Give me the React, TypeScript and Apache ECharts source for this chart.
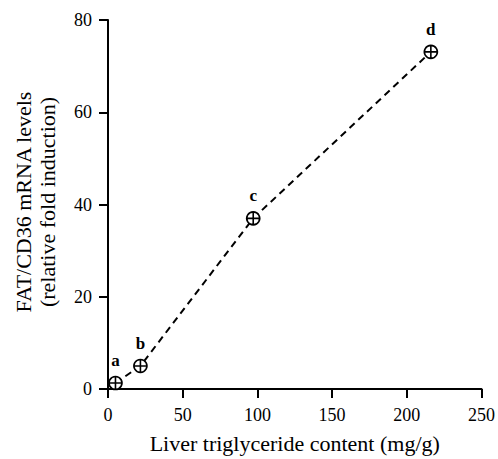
import React, { useEffect, useRef } from "react";
import * as echarts from "echarts";

const pointLabels = ["a", "b", "c", "d"];
const triglyceride = [5.0, 21.7, 97.2, 216.1];
const fatCd36 = [1.3, 5.0, 37.0, 73.1];
const xTicks = [0, 50, 100, 150, 200, 250];
const yTicks = [0, 20, 40, 60, 80];

const FONT = '"Liberation Serif", "Times New Roman", serif';

export default function App() {
  const ref = useRef<HTMLDivElement>(null);
  useEffect(() => {
    if (!ref.current) return;
    const chart = echarts.init(ref.current, undefined, { renderer: "svg" });
    const data = triglyceride.map((x, i) => ({ value: [x, fatCd36[i]], name: pointLabels[i] }));
    chart.setOption({
      animation: false,
      backgroundColor: "#fff",
      grid: { left: 108, right: 14, top: 20, bottom: 64 },
      xAxis: {
        type: "value",
        min: xTicks[0],
        max: xTicks[xTicks.length - 1],
        interval: 50,
        name: "Liver triglyceride content (mg/g)",
        nameLocation: "middle",
        nameGap: 43,
        nameTextStyle: { fontFamily: FONT, fontSize: 22, color: "#000" },
        axisLine: { onZero: false, lineStyle: { color: "#000", width: 2 } },
        axisTick: { show: true, length: 9, lineStyle: { color: "#000", width: 2 } },
        axisLabel: { fontFamily: FONT, fontSize: 18, color: "#000", margin: 17 },
        splitLine: { show: false },
      },
      yAxis: {
        type: "value",
        min: yTicks[0],
        max: yTicks[yTicks.length - 1],
        interval: 20,
        axisLine: { show: true, onZero: false, lineStyle: { color: "#000", width: 2 } },
        axisTick: { show: true, length: 9, lineStyle: { color: "#000", width: 2 } },
        axisLabel: { fontFamily: FONT, fontSize: 18, color: "#000", margin: 16 },
        splitLine: { show: false },
      },
      graphic: [
        {
          type: "text",
          x: 23,
          y: 202,
          rotation: Math.PI / 2,
          style: {
            text: "FAT/CD36 mRNA levels",
            fontFamily: FONT,
            fontSize: 22,
            fill: "#000",
            textAlign: "center",
            textVerticalAlign: "middle",
          },
        },
        {
          type: "text",
          x: 47,
          y: 202,
          rotation: Math.PI / 2,
          style: {
            text: "(relative fold induction)",
            fontFamily: FONT,
            fontSize: 22,
            fill: "#000",
            textAlign: "center",
            textVerticalAlign: "middle",
          },
        },
      ],
      series: [
        {
          type: "line",
          data,
          symbol: "path://M10,0A10,10,0,1,1,9.99,0Z M0,10L20,10 M10,0L10,20",
          symbolSize: 13,
          showSymbol: true,
          itemStyle: { color: "#fff", borderColor: "#000", borderWidth: 1.6 },
          lineStyle: { color: "#000", width: 2, type: [7, 5] },
          label: {
            show: true,
            position: "top",
            distance: 7,
            formatter: (p: any) => p.name,
            fontFamily: FONT,
            fontSize: 17,
            fontWeight: "bold",
            color: "#000",
          },
          emphasis: { disabled: true },
          z: 3,
        },
      ],
    });
    return () => chart.dispose();
  }, []);
  return (
    <div
      ref={ref}
      style={{ position: "fixed", left: 0, top: 0, width: 498, height: 459, background: "#fff" }}
    />
  );
}
